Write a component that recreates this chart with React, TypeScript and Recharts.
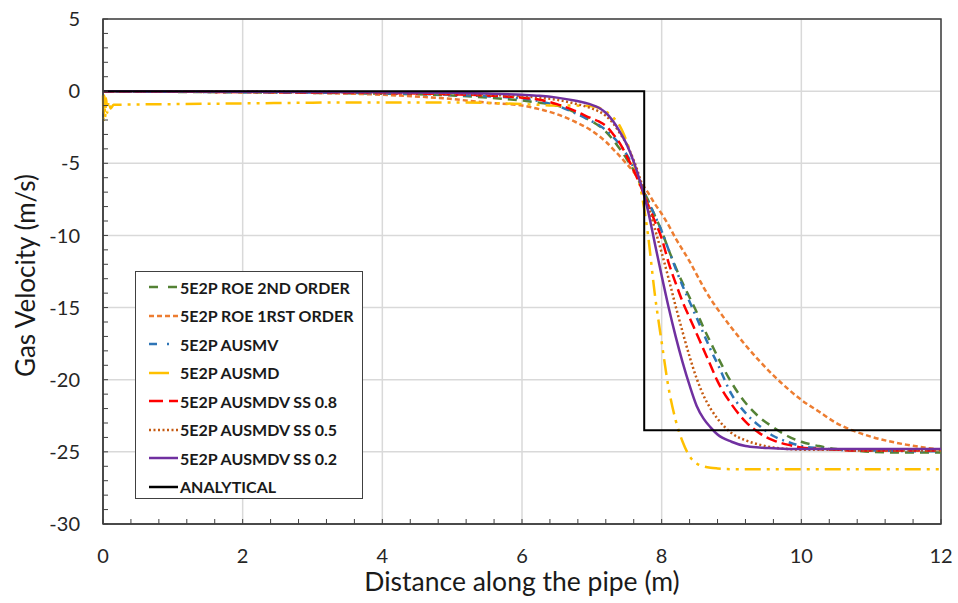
import { CartesianGrid, Legend, Line, LineChart, ReferenceArea, XAxis, YAxis } from "recharts";

// distance along the pipe (m), shared grid for the numerical schemes
const distance = [
  0, 1, 2, 3, 4, 5, 5.5, 6, 6.25, 6.5, 6.75, 7, 7.1, 7.2, 7.3, 7.4, 7.5, 7.6, 7.7, 7.8, 7.9, 8.0, 8.1, 8.2,
  8.3, 8.4, 8.5, 8.6, 8.7, 8.8, 9.0, 9.2, 9.4, 9.6, 9.8, 10, 10.25, 10.5, 10.75, 11, 11.5, 12,
];

const roe2ndOrder = [
  -0.02, -0.05, -0.08, -0.12, -0.18, -0.3, -0.45, -0.65, -0.8, -1.0, -1.45, -2.1, -2.4, -2.8, -3.35, -4.0,
  -4.7, -5.5, -6.5, -7.5, -8.6, -9.7, -11.0, -12.2, -13.3, -14.3, -15.3, -16.4, -17.4, -18.4, -20.2, -21.6,
  -22.6, -23.3, -23.9, -24.3, -24.6, -24.8, -24.9, -25.0, -25.05, -25.05,
];

const roe1rstOrder = [
  -0.02, -0.04, -0.07, -0.12, -0.25, -0.55, -0.8, -1.0, -1.25, -1.6, -2.1, -2.75, -3.1, -3.5, -4.0, -4.5,
  -5.05, -5.6, -6.3, -7.0, -7.8, -8.5, -9.3, -10.2, -11.0, -11.8, -12.7, -13.6, -14.4, -15.1, -16.4, -17.6,
  -18.7, -19.7, -20.6, -21.4, -22.2, -23.0, -23.55, -23.95, -24.5, -24.85,
];

const ausmv = [
  -0.02, -0.04, -0.07, -0.1, -0.15, -0.25, -0.35, -0.5, -0.7, -1.0, -1.5, -2.1, -2.35, -2.7, -3.15, -3.7,
  -4.4, -5.3, -6.5, -7.6, -8.6, -9.7, -11.0, -12.3, -13.5, -14.6, -15.7, -16.8, -17.9, -18.9, -21.0, -22.3,
  -23.2, -23.9, -24.3, -24.6, -24.75, -24.85, -24.9, -24.9, -24.95, -24.95,
];

const ausmd = [
  -0.95, -0.9, -0.85, -0.8, -0.78, -0.78, -0.82, -0.9, -0.95, -1.0, -1.0, -1.05, -1.15, -1.4, -1.8, -2.4,
  -3.5, -5.0, -6.8, -9.8, -14.0, -17.4, -20.6, -22.8, -24.3, -25.3, -25.8, -26.0, -26.1, -26.15, -26.2,
  -26.2, -26.2, -26.2, -26.2, -26.2, -26.2, -26.2, -26.2, -26.2, -26.2, -26.2,
];

// oscillation of AUSMD right at the inlet
const ausmdInletX = [0, 0.01, 0.02, 0.03, 0.045, 0.06, 0.08, 0.11, 0.15];
const ausmdInletV = [-0.3, -2.0, -0.3, -1.8, -0.5, -1.5, -0.7, -1.2, -0.95];

const ausmdvSs08 = [
  -0.02, -0.04, -0.06, -0.09, -0.13, -0.22, -0.3, -0.45, -0.6, -0.9, -1.35, -1.9, -2.1, -2.4, -2.95, -3.6,
  -4.5, -5.5, -6.6, -7.8, -9.0, -10.2, -11.9, -13.3, -14.6, -15.7, -16.8, -17.9, -19.0, -20.1, -21.7, -22.9,
  -23.7, -24.2, -24.5, -24.7, -24.8, -24.85, -24.9, -24.9, -24.9, -24.9,
];

const ausmdvSs05 = [
  -0.01, -0.02, -0.04, -0.06, -0.1, -0.17, -0.25, -0.35, -0.45, -0.6, -0.85, -1.2, -1.4, -1.7, -2.2, -2.9,
  -3.7, -4.8, -6.2, -7.8, -9.5, -11.2, -13.0, -14.9, -16.7, -18.4, -19.9, -21.1, -22.0, -22.7, -23.7, -24.2,
  -24.5, -24.7, -24.8, -24.85, -24.85, -24.85, -24.9, -24.9, -24.9, -24.9,
];

const ausmdvSs02 = [
  0, -0.02, -0.04, -0.06, -0.08, -0.12, -0.17, -0.25, -0.32, -0.45, -0.65, -0.95, -1.15, -1.5, -2.05, -2.8,
  -3.7, -4.9, -6.4, -8.2, -10.5, -12.8, -15.0, -17.0, -18.8, -20.4, -21.8, -22.7, -23.3, -23.8, -24.3, -24.6,
  -24.7, -24.75, -24.8, -24.8, -24.8, -24.8, -24.8, -24.8, -24.8, -24.8,
];

const analyticalX = [0, 7.75, 7.75, 12];
const analyticalV = [0, 0, -23.5, -23.5];

const xTicks = Array.from({ length: 31 }, (_, i) => Math.round(i * 4) / 10);
const yTicks = Array.from({ length: 36 }, (_, i) => i - 30);
const xMajor = [0, 2, 4, 6, 8, 10, 12];
const yMajor = [5, 0, -5, -10, -15, -20, -25, -30];

const toPoints = (xs: number[], vs: number[]) => xs.map((x, i) => ({ x, v: vs[i] }));

const series = [
  { name: "5E2P ROE 2ND ORDER", color: "#548235", dash: "9 6", legendDash: "9 10", points: toPoints(distance, roe2ndOrder) },
  { name: "5E2P ROE 1RST ORDER", color: "#ED7D31", dash: "5 3", legendDash: "5 3", points: toPoints(distance, roe1rstOrder) },
  { name: "5E2P AUSMV", color: "#2E75B6", dash: "8 5 2 5", legendDash: "8 10 2 10", points: toPoints(distance, ausmv) },
  {
    name: "5E2P AUSMD",
    color: "#FFC000",
    dash: "16 6 3 6 3 6",
    legendDash: "20 40",
    points: [...toPoints(ausmdInletX, ausmdInletV), ...toPoints(distance.slice(1), ausmd.slice(1))],
  },
  { name: "5E2P AUSMDV SS 0.8", color: "#FF0000", dash: "11 5", legendDash: "14 6", points: toPoints(distance, ausmdvSs08) },
  { name: "5E2P AUSMDV SS 0.5", color: "#C55A11", dash: "2 2.5", legendDash: "2 2.5", points: toPoints(distance, ausmdvSs05) },
  { name: "5E2P AUSMDV SS 0.2", color: "#7030A0", dash: undefined, legendDash: undefined, points: toPoints(distance, ausmdvSs02) },
];

const analytical = toPoints(analyticalX, analyticalV);

function LegendBox() {
  const items = [...series, { name: "ANALYTICAL", color: "#000", legendDash: undefined }];
  return (
    <div
      style={{
        boxSizing: "border-box",
        width: 228,
        height: 228,
        border: "1px solid #404040",
        background: "#fff",
        paddingTop: 1,
      }}
    >
      {items.map((s) => (
        <div key={s.name} style={{ display: "flex", alignItems: "center", height: 28.5 }}>
          <svg width={44} height={10} style={{ flex: "none" }}>
            <line x1={13} x2={42} y1={5} y2={5} stroke={s.color} strokeWidth={2.5} strokeDasharray={s.legendDash} />
          </svg>
          <span style={{ fontWeight: 700, fontSize: 16, color: "#1a1a1a", whiteSpace: "nowrap" }}>{s.name}</span>
        </div>
      ))}
    </div>
  );
}

export default function App() {
  return (
    <div style={{ position: "absolute", left: 0, top: 0, width: 958, height: 603, background: "#fff", fontFamily: "Lato" }}>
      <LineChart width={958} height={603} margin={{ top: 19, right: 17, bottom: 0, left: 0 }}>
        <CartesianGrid stroke="#d9d9d9" strokeWidth={1.5} verticalValues={xMajor} horizontalValues={yMajor} />
        <XAxis
          dataKey="x"
          type="number"
          domain={[0, 12]}
          ticks={xTicks}
          interval={0}
          allowDuplicatedCategory={false}
          height={79}
          tickSize={-5}
          tickMargin={30}
          tickFormatter={(v) => (xMajor.includes(v) ? String(v) : "")}
          tick={{ fontSize: 20, fill: "#262626" }}
          axisLine={{ stroke: "#404040", strokeWidth: 1.5 }}
          tickLine={{ stroke: "#404040" }}
          label={{ value: "Distance along the pipe (m)", position: "insideBottom", offset: 12, fontSize: 26.5, fill: "#1a1a1a" }}
        />
        <YAxis
          dataKey="v"
          type="number"
          domain={[-30, 5]}
          ticks={yTicks}
          interval={0}
          width={103}
          tickSize={-5}
          tickMargin={28}
          tickFormatter={(v) => (yMajor.includes(v) ? String(v) : "")}
          tick={{ fontSize: 20, fill: "#262626" }}
          axisLine={{ stroke: "#404040", strokeWidth: 1.5 }}
          tickLine={{ stroke: "#404040" }}
          label={{
            value: "Gas Velocity (m/s)",
            angle: -90,
            position: "insideLeft",
            offset: 26,
            dy: 4,
            fontSize: 26,
            fill: "#1a1a1a",
            style: { textAnchor: "middle" },
          }}
        />
        <ReferenceArea x1={0} x2={12} y1={-30} y2={5} fill="none" stroke="#404040" strokeWidth={1.5} ifOverflow="visible" />
        {series.map((s) => (
          <Line
            key={s.name}
            data={s.points}
            dataKey="v"
            name={s.name}
            type="monotone"
            stroke={s.color}
            strokeWidth={2.5}
            strokeDasharray={s.dash}
            dot={false}
            activeDot={false}
            isAnimationActive={false}
          />
        ))}
        <Line
          data={analytical}
          dataKey="v"
          name="ANALYTICAL"
          type="linear"
          stroke="#000"
          strokeWidth={2}
          dot={false}
          activeDot={false}
          isAnimationActive={false}
        />
        <Legend
          layout="vertical"
          align="center"
          verticalAlign="middle"
          content={() => <LegendBox />}
          wrapperStyle={{ left: 135, top: 271, width: 228, height: 228 }}
        />
      </LineChart>
    </div>
  );
}
